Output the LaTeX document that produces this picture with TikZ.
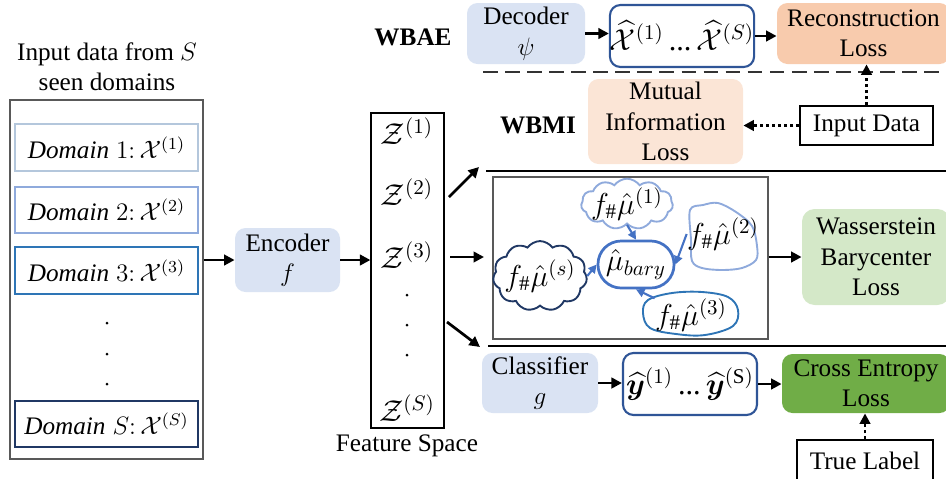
\documentclass[tikz,border=0pt]{standalone}
\usepackage{amsmath,bm}
\usepackage{fontspec}
\setmainfont{Liberation Serif}
\usetikzlibrary{arrows.meta,shapes.symbols,shapes.misc}
\definecolor{lbfill}{HTML}{DAE3F3}
\definecolor{recfill}{HTML}{F8CBAD}
\definecolor{mifill}{HTML}{FBE5D6}
\definecolor{wbfill}{HTML}{D4E8C8}
\definecolor{cefill}{HTML}{70AD47}
\definecolor{outblue}{HTML}{2F5597}
\definecolor{dA}{HTML}{B4C7DC}
\definecolor{dB}{HTML}{8FAADC}
\definecolor{dC}{HTML}{2E75B6}
\definecolor{dD}{HTML}{203864}
\definecolor{mub}{HTML}{4472C4}
\definecolor{grayline}{HTML}{595959}
\begin{document}
\begin{tikzpicture}[x=0.476pt,y=-0.476pt,
  every node/.style={font=\fontsize{12}{14.5}\selectfont, align=center, inner sep=0pt},
  mth/.style={font=\fontsize{14.4}{16}\selectfont},
  wh/.style 2 args={minimum width=#1*0.476pt, minimum height=#2*0.476pt},
  bluebox/.style={fill=lbfill, rounded corners=5pt},
  outbox/.style={draw=outblue, line width=1pt, rounded corners=5pt, fill=white},
  dombox/.style={draw=#1, line width=1pt},
  plainbox/.style={draw=black, line width=0.6pt, fill=white},
  arr/.style={-{Triangle[length=5pt,width=5pt]}, line width=1.3pt},
  darr/.style={-{Triangle[length=5pt,width=5pt]}, line width=1.4pt, dash pattern=on 1.5pt off 1.4pt},
  barr/.style={-{Triangle[length=4pt,width=4pt]}, line width=1pt, draw=mub, color=mub},
  cloudy/.style={cloud, cloud puffs=11, cloud puff arc=110, draw=#1, line width=0.9pt, inner sep=-2pt},
]
\clip (0,0) rectangle (946,478);
\useasboundingbox (0,0) rectangle (946,478);

% left input block
\node (title) at (107,67) {Input data from $S$\\seen domains};
\node[wh={193}{359}, draw=grayline, line width=0.6pt] (inbox) at (106.5,279.5) {};
\node[wh={183}{47}, dombox=dA] (d1) at (106.5,147.5) {$\mathit{Domain}\;1{:}\,\mathcal{X}^{(1)}$};
\node[wh={183}{46}, dombox=dB] (d2) at (106.5,210) {$\mathit{Domain}\;2{:}\,\mathcal{X}^{(2)}$};
\node[wh={183}{47}, dombox=dC] (d3) at (106.5,270.5) {$\mathit{Domain}\;3{:}\,\mathcal{X}^{(3)}$};
\node[wh={183}{46}, dombox=dD] (ds) at (106.5,424) {$\mathit{Domain}\;S{:}\,\mathcal{X}^{(S)}$};
\fill (107,323) circle (1.5) (107,354) circle (1.5) (107,384) circle (1.5);

% encoder
\node[wh={105}{64}, bluebox] (enc) at (287.5,260) {Encoder\\$f$};
\draw[arr] (inbox.east |- enc.west) -- (enc.west);

% feature space
\node[wh={73}{315}, draw=black, line width=0.6pt] (feat) at (407.5,270.5) {};
\node[mth] (z1) at (407,131) {$\mathcal{Z}^{(1)}$};
\node[mth] (z2) at (407,192) {$\mathcal{Z}^{(2)}$};
\node[mth] (z3) at (407,255) {$\mathcal{Z}^{(3)}$};
\node[mth] (zs) at (407,408) {$\mathcal{Z}^{(S)}$};
\fill (407,295) circle (1.5) (407,325) circle (1.5) (407,355) circle (1.5);
\node (fs) at (407,446) {Feature Space};
\draw[arr] (enc.east) -- (feat.west |- enc.east);

% arrows out of feature space
\coordinate (u1) at (449,197); \coordinate (u2) at (479,167);
\coordinate (h1) at (450,257); \coordinate (h2) at (484,257);
\coordinate (l1) at (447,322); \coordinate (l2) at (480,347);
\draw[arr] (u1) -- (u2);
\draw[arr] (h1) -- (h2);
\draw[arr] (l1) -- (l2);

% separators
\coordinate (sa1) at (483,72); \coordinate (sa2) at (946,72);
\coordinate (sb1) at (486,171); \coordinate (sb2) at (946,171);
\coordinate (sc1) at (488,346); \coordinate (sc2) at (946,346);
\draw[line width=0.8pt, dash pattern=on 7pt off 3.5pt, draw=black!80] (sa1) -- (sa2);
\draw[line width=0.9pt] (sb1) -- (sb2);
\draw[line width=0.9pt] (sc1) -- (sc2);

% WBAE row
\node[font=\fontsize{12}{14.5}\selectfont\bfseries] (wbae) at (413,37) {WBAE};
\node[wh={118}{61}, bluebox] (dec) at (526,33.5) {Decoder\\$\psi$};
\node[wh={140}{62}, outbox, mth] (xhat) at (682,36) {$\widehat{\mathcal{X}}^{(1)}\,\text{...}\,\widehat{\mathcal{X}}^{(S)}$};
\node[wh={173}{61}, fill=recfill, rounded corners=5pt] (rec) at (863.5,33.5) {Reconstruction\\Loss};
\draw[arr] (dec.east) -- (xhat.west |- dec.east);
\draw[arr] (xhat.east) -- (rec.west |- xhat.east);

% WBMI row
\node[font=\fontsize{12}{14.5}\selectfont\bfseries] (wbmi) at (538,125) {WBMI};
\node[wh={155}{85}, fill=mifill, rounded corners=5pt] (mi) at (665.5,121.5) {Mutual\\Information\\Loss};
\node[wh={133}{39}, plainbox] (indata) at (866.5,125.5) {Input Data};
\draw[darr] (indata.west) -- (mi.east |- indata.west);
\draw[darr] (indata.north) -- (indata.north |- rec.south);

% barycenter block
\node[wh={275}{162}, draw=grayline, line width=0.6pt] (big) at (630.5,258) {};
\node[wh={76}{47}, draw=mub, line width=1.3pt, rounded corners=11pt, mth] (bary) at (636,264.5) {$\hat{\mu}_{bary}$};
\node[cloudy=dB, aspect=2.3, mth] (c1) at (627,204) {$f_{\#}\hat{\mu}^{(1)}$};
\node[cloudy=dD, aspect=1.5, mth] (cs) at (540,276) {$f_{\#}\hat{\mu}^{(s)}$};
\draw[draw=dB, line width=0.9pt] plot[smooth cycle, tension=0.55] coordinates {(690,210) (703,205) (718,203) (736,212) (752,226) (757,246) (756,260) (742,268) (722,270) (702,268) (692,261) (691,240)};
\node[mth] (m2) at (723,234) {$f_{\#}\hat{\mu}^{(2)}$};
\draw[draw=dC, line width=0.9pt] plot[smooth cycle, tension=0.6] coordinates {(648,300) (672,293) (702,292) (728,297) (738,310) (733,326) (705,335) (676,334) (650,328) (643,313)};
\node[mth] (m3) at (691,315) {$f_{\#}\hat{\mu}^{(3)}$};
\draw[barr] (c1.south) -- (bary.north);
\draw[barr] (m2.west) -- (bary.east);
\draw[barr] (m3.north west) -- (bary.south);
\draw[barr] (cs.east) -- (bary.west);

\node[wh={148}{96}, fill=wbfill, rounded corners=6pt] (wass) at (876,257) {Wasserstein\\Barycenter\\Loss};
\draw[arr] (big.east |- wass.west) -- (wass.west);

% classifier row
\node[wh={116}{60}, bluebox] (cls) at (540,383) {Classifier\\$g$};
\node[wh={134}{62}, outbox, mth] (yhat) at (690,384) {$\widehat{\bm{y}}^{(1)}\,\text{...}\,\widehat{\bm{y}}^{(\mathrm{S})}$};
\node[wh={168}{59}, fill=cefill, rounded corners=5pt] (ce) at (866,383.5) {Cross Entropy\\Loss};
\node[wh={136}{42}, plainbox] (tl) at (865,461) {True Label};
\draw[arr] (cls.east) -- (yhat.west |- cls.east);
\draw[arr] (yhat.east) -- (ce.west |- yhat.east);
\draw[darr] (tl.north) -- (tl.north |- ce.south);
\end{tikzpicture}
\end{document}
